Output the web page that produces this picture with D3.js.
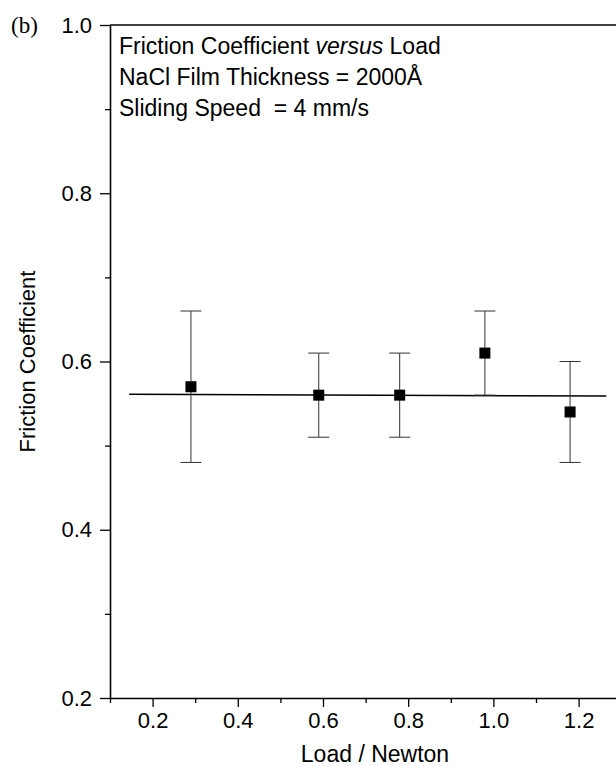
<!DOCTYPE html>
<html><head><meta charset="utf-8">
<script src="https://cdn.jsdelivr.net/npm/d3@7"></script>
<style>body{margin:0;background:#fff}svg{display:block}text{font-family:"Liberation Sans",Arial,sans-serif;fill:#000}</style>
</head><body>
<svg id="c" width="616" height="766"></svg>
<script>
const loads = [0.29, 0.59, 0.78, 0.98, 1.18];
const friction = [0.57, 0.56, 0.56, 0.61, 0.54];
const errUpper = [0.66, 0.61, 0.61, 0.66, 0.60];
const errLower = [0.48, 0.51, 0.51, 0.56, 0.48];
const fitX = [0.145, 1.265];
const fitY = [0.561, 0.559];
const xMajor = [0.2, 0.4, 0.6, 0.8, 1.0, 1.2];
const xMinor = [0.1, 0.3, 0.5, 0.7, 0.9, 1.1];
const yMajor = [0.2, 0.4, 0.6, 0.8, 1.0];
const yMinor = [0.3, 0.5, 0.7, 0.9];
const infoLines = ["Friction Coefficient |versus| Load", "NaCl Film Thickness = 2000Å", "Sliding Speed  = 4 mm/s"];

const svg = d3.select("#c");
const L = 110, T = 25, B = 698;
const x = d3.scaleLinear().domain([0.1, 1.3]).range([L, L + 426 * 1.2]);
const y = d3.scaleLinear().domain([0.2, 1.0]).range([B, T]);

// frame top line
svg.append("line").attr("x1", L).attr("x2", 616).attr("y1", T).attr("y2", T)
  .attr("stroke", "#000").attr("stroke-width", 1.6);

function styleAxis(g) {
  g.select(".domain").attr("stroke", "#000").attr("stroke-width", 1.6);
  g.selectAll(".tick line").attr("stroke", "#000").attr("stroke-width", 1.3);
  g.selectAll("text").style("font-family", '"Liberation Sans",Arial,sans-serif').style("font-size", "22px").attr("fill", "#000");
}
// x axis
const gx = svg.append("g").attr("transform", `translate(0,${B})`)
  .call(d3.axisBottom(x).tickValues(xMajor).tickFormat(d3.format(".1f")).tickSize(9).tickSizeOuter(0).tickPadding(5));
styleAxis(gx);
svg.append("g").attr("transform", `translate(0,${B})`)
  .call(d3.axisBottom(x).tickValues(xMinor).tickFormat("").tickSize(5).tickSizeOuter(0))
  .call(g => { g.select(".domain").remove(); g.selectAll(".tick line").attr("stroke", "#000").attr("stroke-width", 1.3); });
// y axis
const gy = svg.append("g").attr("transform", `translate(${L},0)`)
  .call(d3.axisLeft(y).tickValues(yMajor).tickFormat(d3.format(".1f")).tickSize(10).tickSizeOuter(0).tickPadding(8));
styleAxis(gy);
svg.append("g").attr("transform", `translate(${L},0)`)
  .call(d3.axisLeft(y).tickValues(yMinor).tickFormat("").tickSize(5).tickSizeOuter(0))
  .call(g => { g.select(".domain").remove(); g.selectAll(".tick line").attr("stroke", "#000").attr("stroke-width", 1.3); });

// fit line
svg.append("line").attr("x1", x(fitX[0])).attr("x2", x(fitX[1])).attr("y1", y(fitY[0])).attr("y2", y(fitY[1]))
  .attr("stroke", "#000").attr("stroke-width", 1.5);

// error bars
const capW = 10.5;
loads.forEach((d, i) => {
  const g = svg.append("g").attr("stroke", "#333").attr("stroke-width", 1);
  g.append("line").attr("x1", x(d)).attr("x2", x(d)).attr("y1", y(errUpper[i])).attr("y2", y(errLower[i]));
  g.append("line").attr("x1", x(d) - capW).attr("x2", x(d) + capW).attr("y1", y(errUpper[i])).attr("y2", y(errUpper[i]));
  g.append("line").attr("x1", x(d) - capW).attr("x2", x(d) + capW).attr("y1", y(errLower[i])).attr("y2", y(errLower[i]));
});
// markers
svg.selectAll("rect.pt").data(loads).enter().append("rect").attr("class", "pt")
  .attr("x", d => x(d) - 5.5).attr("y", (d, i) => y(friction[i]) - 5.5)
  .attr("width", 11).attr("height", 11).attr("fill", "#000");

// info text
infoLines.forEach((s, i) => {
  const t = svg.append("text").attr("x", 119).attr("y", 54 + i * 31).style("font-size", "23px").style("white-space", "pre");
  s.split("|").forEach((part, j) => {
    t.append("tspan").text(part).style("font-style", j === 1 ? "italic" : "normal");
  });
});

// axis titles
svg.append("text").attr("x", 375).attr("y", 762).attr("text-anchor", "middle").style("font-size", "23px").text("Load / Newton");
svg.append("text").attr("transform", `translate(35,${(T + B) / 2}) rotate(-90)`).attr("text-anchor", "middle")
  .style("font-size", "22px").text("Friction Coefficient");
svg.append("text").attr("x", 11).attr("y", 33).style("font-family", '"Liberation Serif","Times New Roman",serif').style("font-size", "23px").text("(b)");
</script>
</body></html>
